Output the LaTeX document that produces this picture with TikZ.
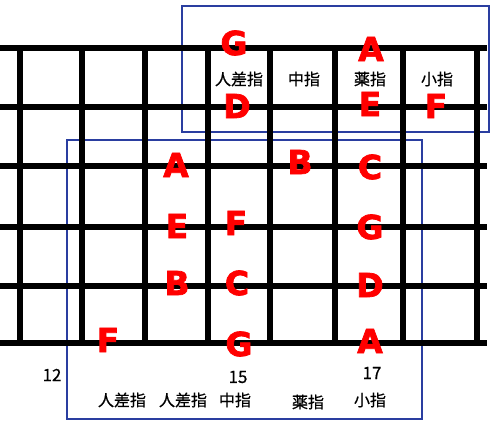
\documentclass[tikz,border=0pt]{standalone}
\usepackage{fontspec}
\newfontfamily\notefont{DejaVu Sans}[BoldFeatures={FakeBold=2.2}]
\newfontfamily\jpfont{Noto Sans CJK JP}[FakeBold=0.6]
\definecolor{boxblue}{RGB}{42,62,160}
\definecolor{notered}{RGB}{255,0,0}

\begin{document}
\begin{tikzpicture}[x=1pt,y=-1pt,
  fret/.style={line width=6.5pt,black},
  string line/.style={line width=6pt,black},
  box/.style={draw=boxblue,line width=2pt},
  note/.style={text=notered,font=\notefont\bfseries\fontsize{33}{33}\selectfont,inner sep=0pt},
  finger/.style={font=\jpfont\fontsize{16}{16}\selectfont,inner sep=0pt},
  fretnum/.style={font=\jpfont\fontsize{17}{17}\selectfont,inner sep=0pt}]
  \useasboundingbox (0,0) rectangle (497,430);

  % position boxes
  \draw[box] (182,6) rectangle (489,132);
  \draw[box] (67,140) rectangle (422,419);

  % strings
  \draw[string line] (0,48) -- (487,48);
  \draw[string line] (0,107) -- (487,107);
  \draw[string line] (0,166) -- (487,166);
  \draw[string line] (0,227) -- (487,227);
  \draw[string line] (0,286) -- (487,286);
  \draw[string line] (0,343) -- (487,343);

  % frets
  \draw[fret] (20,48) -- (20,343);
  \draw[fret] (82,48) -- (82,343);
  \draw[fret] (145,48) -- (145,343);
  \draw[fret] (208,48) -- (208,343);
  \draw[fret] (270,48) -- (270,343);
  \draw[fret] (335,48) -- (335,343);
  \draw[fret] (403,48) -- (403,343);
  \draw[fret] (477,48) -- (477,343);

  % notes
  \node[note] (g1) at (234,43) {G};
  \node[note] (a1) at (371,49) {A};
  \node[note] (d1) at (237,106) {D};
  \node[note] (e1) at (370,104) {E};
  \node[note] (f1) at (436,106) {F};
  \node[note] (a2) at (176,165) {A};
  \node[note] (b1) at (300,162) {B};
  \node[note] (c1) at (370,167) {C};
  \node[note] (e2) at (177,226) {E};
  \node[note] (f2) at (236,223) {F};
  \node[note] (g2) at (370,227) {G};
  \node[note] (b2) at (177,283) {B};
  \node[note] (c2) at (237,283) {C};
  \node[note] (d2) at (370,285) {D};
  \node[note] (f3) at (108,340) {F};
  \node[note] (g3) at (239,344) {G};
  \node[note] (a3) at (370,341) {A};

  % fingers
  \node[finger] (idx1) at (239,79) {人差指};
  \node[finger] (mid1) at (304,79) {中指};
  \node[finger] (ring1) at (370,79) {薬指};
  \node[finger] (pinky1) at (437,79) {小指};
  \node[finger] (idx2) at (122,400) {人差指};
  \node[finger] (idx3) at (183,400) {人差指};
  \node[finger] (mid2) at (235,400) {中指};
  \node[finger] (ring2) at (308,402) {薬指};
  \node[finger] (pinky2) at (370,400) {小指};

  % fret numbers
  \node[fretnum] (n12) at (52,375) {12};
  \node[fretnum] (n15) at (238,377) {15};
  \node[fretnum] (n17) at (372,373) {17};
\end{tikzpicture}
\end{document}
